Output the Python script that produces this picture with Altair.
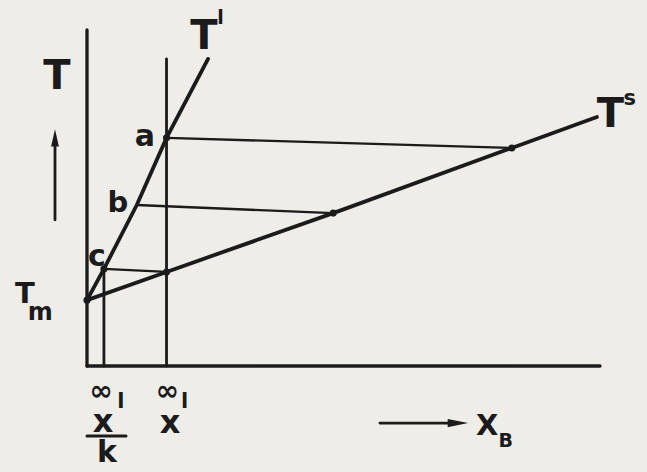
import altair as alt
import pandas as pd

# Schematic phase diagram near the melting point of the solvent.
# Composition x_B and temperature T are in arbitrary units (0-100).
liquidus_x = [0, 3.3, 9.7, 15.5, 23.6]
liquidus_T = [19.6, 28.9, 47.9, 67.9, 91.4]
solidus_x = [0, 15.5, 48.0, 82.8, 99.4]
solidus_T = [19.6, 28.0, 45.5, 64.9, 74.1]

# indices 1..3 are the tie-line ends c, b, a
tie_index = [1, 2, 3]
liquid_dots = [0, 1, 3]
solid_dots = [1, 2, 3]

x_inf = 15.5      # x∞l
x_inf_k = 3.3     # x∞l / k
axis_x_max = 100
axis_T_max = 100

INK = "#1b1b1b"
PAPER = "#eeede8"
FONT = "DejaVu Sans"

xs = alt.Scale(domain=[-16.96, 109.16], nice=False, zero=False)
ys = alt.Scale(domain=[-31.55, 108.93], nice=False, zero=False)


def X(f="x"):
    return alt.X(f"{f}:Q", scale=xs, axis=None)


def Y(f="y"):
    return alt.Y(f"{f}:Q", scale=ys, axis=None)


def segments(rows, width):
    df = pd.DataFrame(rows, columns=["x", "y", "x2", "y2"])
    return alt.Chart(df).mark_rule(color=INK, strokeWidth=width, strokeCap="round").encode(
        x=X(), y=Y(), x2="x2:Q", y2="y2:Q"
    )


# axes
axes = segments([[0, 0, 0, axis_T_max], [0, 0, axis_x_max, 0]], 3.3)

# liquidus and solidus
curve_rows = []
for i, (x, t) in enumerate(zip(liquidus_x, liquidus_T)):
    curve_rows.append({"curve": "l", "x": x, "y": t, "o": i})
for i, (x, t) in enumerate(zip(solidus_x, solidus_T)):
    curve_rows.append({"curve": "s", "x": x, "y": t, "o": i})
curves = alt.Chart(pd.DataFrame(curve_rows)).mark_line(
    color=INK, strokeWidth=3.8, strokeCap="round"
).encode(x=X(), y=Y(), detail="curve:N", order="o:Q")

# composition verticals
verticals = segments(
    [[x_inf, 0, x_inf, liquidus_T[-1]], [x_inf_k, 0, x_inf_k, liquidus_T[1]]], 2.8
)

# tie lines c, b, a
ties = segments(
    [[liquidus_x[i], liquidus_T[i], solidus_x[i], solidus_T[i]] for i in tie_index], 2.4
)

dot_rows = [{"x": liquidus_x[i], "y": liquidus_T[i]} for i in liquid_dots]
dot_rows += [{"x": solidus_x[i], "y": solidus_T[i]} for i in solid_dots]
dots = alt.Chart(pd.DataFrame(dot_rows)).mark_point(
    filled=True, color=INK, opacity=1, size=50
).encode(x=X(), y=Y())

# lettering
labels = pd.DataFrame(
    [
        ("T", -5.85, 86.0, 40),
        ("T", 22.8, 97.9, 40),
        ("l", 26.0, 103.5, 19),
        ("T", 102.0, 74.7, 40),
        ("s", 105.8, 79.4, 21),
        ("a", 11.3, 68.2, 30),
        ("b", 6.0, 48.5, 29),
        ("c", 1.95, 32.4, 30),
        ("T", -12.1, 21.4, 29),
        ("m", -9.1, 15.8, 24),
        ("∞", 15.6, -7.6, 28),
        ("l", 19.0, -10.6, 21),
        ("x", 16.2, -16.9, 32),
        ("∞", 2.73, -7.6, 28),
        ("l", 6.6, -10.6, 21),
        ("x", 3.12, -16.6, 32),
        ("k", 3.9, -25.8, 30),
        ("X", 78.0, -17.9, 29),
        ("B", 81.6, -22.2, 19),
    ],
    columns=["t", "x", "y", "fs"],
)
text = alt.Chart(labels).mark_text(
    font=FONT, fontWeight="bold", color=INK, align="center", baseline="middle"
).encode(x=X(), y=Y(), text="t:N", size=alt.Size("fs:Q", scale=None))

# fraction bar under x∞l, and the two direction arrows
frac_bar = segments([[0, -20.8, 7.6, -20.8]], 3)
arrow_shafts = segments([[-6.24, 43.5, -6.24, 65.5], [57.1, -17.0, 71.0, -17.0]], 2.8)
heads = pd.DataFrame(
    [
        {"x": -6.24, "y": 67.9, "shape": "M-0.45,1L0,-1L0.45,1Z", "s": 300},
        {"x": 72.3, "y": -17.0, "shape": "M-1,-0.4L1,0L-1,0.4Z", "s": 420},
    ]
)
arrow_heads = alt.Chart(heads).mark_point(filled=True, color=INK, opacity=1).encode(
    x=X(), y=Y(), shape=alt.Shape("shape:N", scale=None), size=alt.Size("s:Q", scale=None)
)

chart = (
    alt.layer(axes, verticals, ties, curves, dots, frac_bar, arrow_shafts, arrow_heads, text)
    .properties(width=647, height=472, background=PAPER, padding=0, autosize="none")
    .configure_view(stroke=None)
)

chart.save("out.html", embed_options={"renderer": "svg", "actions": False})
